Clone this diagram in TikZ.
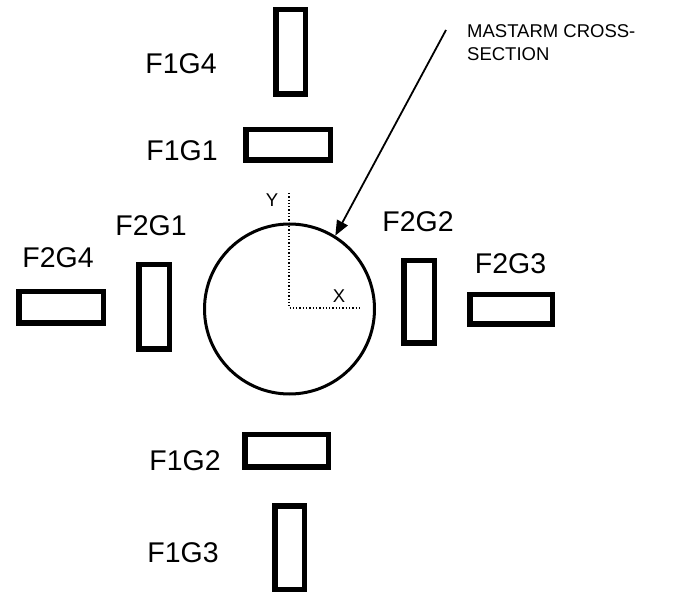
\documentclass[tikz,border=0pt]{standalone}
\usepackage{fontspec}
\setmainfont{Liberation Sans}
\usetikzlibrary{arrows.meta}
\begin{document}
\begin{tikzpicture}[x=1pt,y=-1pt,
  gauge/.style={draw=black,line width=5.5pt,fill=white,inner sep=0pt,outer sep=0pt},
  lbl/.style={font=\fontsize{28.5}{32}\selectfont,inner sep=0pt,anchor=base},
  small/.style={font=\fontsize{18.5}{23.5}\selectfont,inner sep=0pt},
  axis/.style={dotted,line width=1.3pt}]
\useasboundingbox (0,0) rectangle (673,596);
% mast circle
\node[draw=black,line width=3pt,circle,minimum size=170pt,inner sep=0pt] (mast) at (289.5,309) {};
% axes
\coordinate (o) at (289,308);
\coordinate (ytop) at (289,193);
\coordinate (xend) at (361,308);
\draw[axis] (ytop) -- (o) -- (xend);
\node[small,anchor=base] (ylab) at (272,207) {Y};
\node[small,anchor=base] (xlab) at (339,303) {X};
% gauges
\node[gauge,minimum width=29.5pt,minimum height=84.5pt] (f1g4) at (290.5,52) {};
\node[gauge,minimum width=84.5pt,minimum height=30.5pt] (f1g1) at (288,145) {};
\node[gauge,minimum width=30.5pt,minimum height=84.5pt] (f2g1) at (154,307) {};
\node[gauge,minimum width=84.5pt,minimum height=31.5pt] (f2g4) at (61,307.5) {};
\node[gauge,minimum width=30.5pt,minimum height=82.5pt] (f2g2) at (419,302) {};
\node[gauge,minimum width=82.5pt,minimum height=29.5pt] (f2g3) at (511,309.5) {};
\node[gauge,minimum width=83.5pt,minimum height=32.5pt] (f1g2) at (286.5,451) {};
\node[gauge,minimum width=29.5pt,minimum height=83.5pt] (f1g3) at (289.5,547.5) {};
% labels
\node[lbl] (l1) at (181,74) {F1G4};
\node[lbl] (l2) at (182,161) {F1G1};
\node[lbl] (l3) at (151,236) {F2G1};
\node[lbl] (l4) at (58,268) {F2G4};
\node[lbl] (l5) at (418,232) {F2G2};
\node[lbl] (l6) at (510.5,274) {F2G3};
\node[lbl] (l7) at (185,471) {F1G2};
\node[lbl] (l8) at (183,562) {F1G3};
% callout
\node[small,anchor=base west,align=left] (call) at (467,61) {MASTARM CROSS-\\SECTION};
\coordinate (astart) at (446,30);
\draw[line width=1.8pt,-{Triangle[length=15pt,width=12pt]}] (astart) -- (mast.58);
\end{tikzpicture}
\end{document}
